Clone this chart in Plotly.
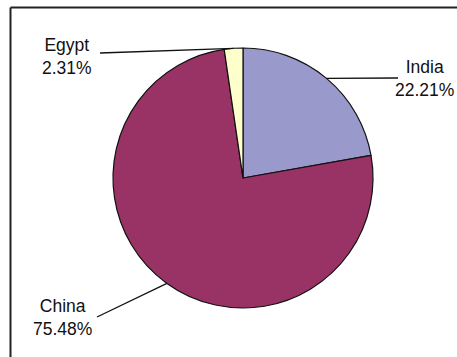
import math
import plotly.graph_objects as go

W, H = 457, 357

countries = ["India", "China", "Egypt"]
shares = [22.21, 75.48, 2.31]
colors = ["#9999CC", "#993366", "#FFFFCC"]

# layout geometry (pixels)
cx, cy, r = 243, 178, 130
label_pos = {"India": (424, 78), "China": (62, 317), "Egypt": (67, 57)}
line_end = {"India": (398, 78), "China": (97, 317), "Egypt": (100, 53)}

def px(x):
    return x / W

def py(y):
    return 1 - y / H

fig = go.Figure(go.Pie(
    labels=countries,
    values=shares,
    sort=False,
    direction="clockwise",
    rotation=0,
    marker=dict(colors=colors, line=dict(color="#111111", width=1.2)),
    textinfo="none",
    hoverinfo="label+percent",
    showlegend=False,
    domain=dict(x=[px(cx - r), px(cx + r)], y=[py(cy + r), py(cy - r)]),
))

shapes = []
annotations = []
total = sum(shares)
cum = 0.0
for name, v in zip(countries, shares):
    mid = (cum + v / 2) / total * 2 * math.pi
    cum += v
    ax = cx + r * math.sin(mid)
    ay = cy - r * math.cos(mid)
    ex, ey = line_end[name]
    shapes.append(dict(type="line", xref="paper", yref="paper",
                       x0=px(ax), y0=py(ay), x1=px(ex), y1=py(ey),
                       line=dict(color="#111111", width=1.3)))
    lx, ly = label_pos[name]
    annotations.append(dict(xref="paper", yref="paper", x=px(lx), y=py(ly),
                            text=f"{name}<br>{v:.2f}%", showarrow=False,
                            xanchor="center", yanchor="middle", align="center",
                            font=dict(family="Liberation Sans, Arial", size=17.5, color="#111111")))

# chart frame (top and left edges visible)
shapes.append(dict(type="line", xref="paper", yref="paper", x0=px(10.5), y0=py(7.5), x1=1, y1=py(7.5),
                   line=dict(color="#222222", width=2)))
shapes.append(dict(type="line", xref="paper", yref="paper", x0=px(10.5), y0=py(7.5), x1=px(10.5), y1=0,
                   line=dict(color="#222222", width=2)))

fig.update_layout(
    width=W, height=H,
    margin=dict(l=0, r=0, t=0, b=0),
    paper_bgcolor="white", plot_bgcolor="white",
    shapes=shapes, annotations=annotations,
)

fig.write_html(
    "out.html",
    config={"displayModeBar": False},
    post_script="document.body.style.margin='0';document.body.style.overflow='hidden';",
)
